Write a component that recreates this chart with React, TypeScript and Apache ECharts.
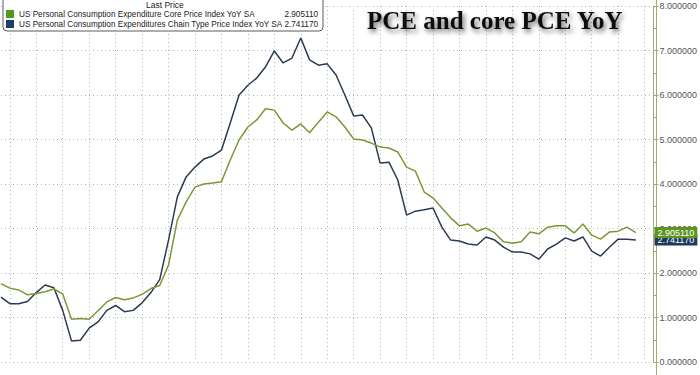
import React, { useEffect, useRef } from "react";
import * as echarts from "echarts";

// Monthly, Aug 2019 .. Aug 2025 (73 observations); two trailing empty months pad the axis
const START_YEAR = 2019;
const START_MONTH = 7; // 0-based: Aug
const N_CATS = 75;
const MONTHS = ["Jan","Feb","Mar","Apr","May","Jun","Jul","Aug","Sep","Oct","Nov","Dec"];
const categories: string[] = [];
for (let i = 0; i < N_CATS; i++) {
  const m = (START_MONTH + i) % 12;
  const y = START_YEAR + Math.floor((START_MONTH + i) / 12);
  categories.push(`${MONTHS[m]} ${y}`);
}

const coreName = "US Personal Consumption Expenditure Core Price Index YoY SA";
const headName = "US Personal Consumption Expenditures Chain Type Price Index YoY SA";

const coreValues = [
  1.76, 1.66, 1.62, 1.51, 1.54, 1.58, 1.64, 1.53, 0.96, 0.98, 0.96, 1.15,
  1.35, 1.45, 1.40, 1.44, 1.52, 1.65, 1.72, 2.18, 3.19, 3.60, 3.93, 4.00,
  4.02, 4.05, 4.54, 4.99, 5.28, 5.44, 5.69, 5.66, 5.37, 5.21, 5.35, 5.15,
  5.39, 5.62, 5.51, 5.28, 5.01, 4.99, 4.92, 4.83, 4.81, 4.72, 4.38, 4.29,
  3.82, 3.69, 3.46, 3.24, 3.06, 3.10, 2.94, 3.01, 2.90, 2.70, 2.67, 2.70,
  2.92, 2.88, 3.03, 3.06, 3.06, 2.90, 3.10, 2.85, 2.76, 2.92, 2.94, 3.03,
  2.90511,
];
const headValues = [
  1.46, 1.31, 1.31, 1.36, 1.56, 1.73, 1.67, 1.16, 0.47, 0.49, 0.76, 0.90,
  1.16, 1.27, 1.13, 1.16, 1.33, 1.56, 1.85, 2.74, 3.71, 4.16, 4.38, 4.56,
  4.63, 4.76, 5.37, 6.00, 6.22, 6.38, 6.63, 6.99, 6.72, 6.83, 7.28, 6.79,
  6.67, 6.70, 6.45, 6.00, 5.53, 5.55, 5.26, 4.47, 4.49, 4.09, 3.30, 3.39,
  3.42, 3.46, 3.03, 2.74, 2.72, 2.65, 2.63, 2.81, 2.74, 2.58, 2.47, 2.47,
  2.43, 2.31, 2.54, 2.65, 2.79, 2.72, 2.81, 2.49, 2.38, 2.58, 2.76, 2.76,
  2.74117,
];
const lastCore = "2.905110";
const lastHead = "2.741170";

const GREEN_LINE = "#7f9636";
const BLUE_LINE = "#2b3b53";
const GREEN_TAG = "#5e9521";
const BLUE_TAG = "#1e3b5d";
const GRID_COLOR = "#b4b4b4";
const AXIS_COLOR = "#a9a77a";
const FONT = "'Liberation Sans', Arial, sans-serif";
const LEG_FS = 8.2;

export default function App() {
  const ref = useRef<HTMLDivElement>(null);
  useEffect(() => {
    document.body.style.margin = "0";
    if (!ref.current) return;
    const chart = echarts.init(ref.current, undefined, { renderer: "svg" });
    const lastVals: Record<string, string> = { [coreName]: lastCore, [headName]: lastHead };
    chart.setOption({
      animation: false,
      backgroundColor: "#ffffff",
      title: {
        text: "PCE and core PCE YoY",
        left: 362,
        top: 3,
        textStyle: {
          fontFamily: "'Liberation Serif', 'Times New Roman', serif",
          fontWeight: "bold",
          fontSize: 25,
          color: "#111111",
          textShadowColor: "rgba(0,0,0,0.6)",
          textShadowBlur: 5,
          textShadowOffsetX: 2,
          textShadowOffsetY: 3,
        },
      },
      legend: {
        orient: "vertical",
        left: 3,
        top: -5,
        icon: "rect",
        itemWidth: 8,
        itemHeight: 8,
        itemGap: 2,
        backgroundColor: "#ffffff",
        borderColor: "#5a5a5a",
        borderWidth: 1,
        borderRadius: 4,
        padding: [15, 5, 3, 3],
        selectedMode: false,
        data: [
          { name: coreName, itemStyle: { color: "#4f9a1b" } },
          { name: headName, itemStyle: { color: "#213f66" } },
        ],
        formatter: (name: string) => `{n|${name}}{v|${lastVals[name]}}`,
        textStyle: {
          fontFamily: FONT,
          fontSize: LEG_FS,
          color: "#222222",
          rich: {
            n: { width: 266, fontFamily: FONT, fontSize: LEG_FS, color: "#222222" },
            v: { width: 33, align: "right", fontFamily: FONT, fontSize: LEG_FS, color: "#222222" },
          },
        },
      },
      graphic: [
        {
          type: "text",
          left: 146,
          top: 0,
          z: 100,
          style: { text: "Last Price", fontFamily: FONT, fontSize: 8.5, fill: "#222222" },
        },
        {
          type: "line",
          shape: { x1: 656.5, y1: 0, x2: 656.5, y2: 375 },
          style: { stroke: AXIS_COLOR, lineWidth: 1 },
          z: -1,
        },
      ],
      grid: { left: 1, right: 44, top: 6, bottom: 13, containLabel: false },
      xAxis: {
        type: "category",
        data: categories,
        boundaryGap: false,
        axisLine: { show: false },
        axisTick: { show: false },
        axisLabel: { show: false },
        splitLine: {
          show: true,
          interval: (idx: number) => idx % 3 === 1,
          lineStyle: { color: GRID_COLOR, type: [1, 3], width: 1 },
        },
      },
      yAxis: {
        type: "value",
        position: "right",
        min: 0,
        max: 8,
        interval: 1,
        axisLine: { show: true, lineStyle: { color: AXIS_COLOR } },
        axisTick: { show: true, length: 5, lineStyle: { color: AXIS_COLOR } },
        minorTick: { show: true, splitNumber: 2, length: 3, lineStyle: { color: AXIS_COLOR } },
        axisLabel: {
          margin: 6,
          fontFamily: FONT,
          fontSize: 9,
          color: "#555555",
          formatter: (v: number) => v.toFixed(6),
        },
        splitLine: { show: true, lineStyle: { color: GRID_COLOR, type: [1, 3], width: 1 } },
      },
      series: [
        {
          name: headName,
          type: "line",
          data: headValues,
          symbol: "none",
          lineStyle: { color: BLUE_LINE, width: 1.5 },
          itemStyle: { color: BLUE_LINE },
          z: 3,
          markLine: {
            silent: true,
            symbol: "none",
            lineStyle: { color: "transparent", width: 0 },
            data: [{ yAxis: headValues[headValues.length - 1] }],
            label: {
              show: true,
              position: "end",
              distance: 1,
              formatter: lastHead,
              backgroundColor: BLUE_TAG,
              color: "#ffffff",
              fontFamily: FONT,
              fontSize: 9,
              padding: [1, 3, 1, 3],
            },
          },
        },
        {
          name: coreName,
          type: "line",
          data: coreValues,
          symbol: "none",
          lineStyle: { color: GREEN_LINE, width: 1.5 },
          itemStyle: { color: GREEN_LINE },
          z: 4,
          markLine: {
            silent: true,
            symbol: "none",
            lineStyle: { color: "transparent", width: 0 },
            data: [{ yAxis: coreValues[coreValues.length - 1] }],
            label: {
              show: true,
              position: "end",
              distance: 1,
              formatter: lastCore,
              backgroundColor: GREEN_TAG,
              color: "#ffffff",
              fontFamily: FONT,
              fontSize: 9,
              padding: [1, 3, 1, 3],
            },
          },
        },
      ],
    });
    return () => chart.dispose();
  }, []);
  return <div ref={ref} style={{ width: 700, height: 375 }} />;
}
